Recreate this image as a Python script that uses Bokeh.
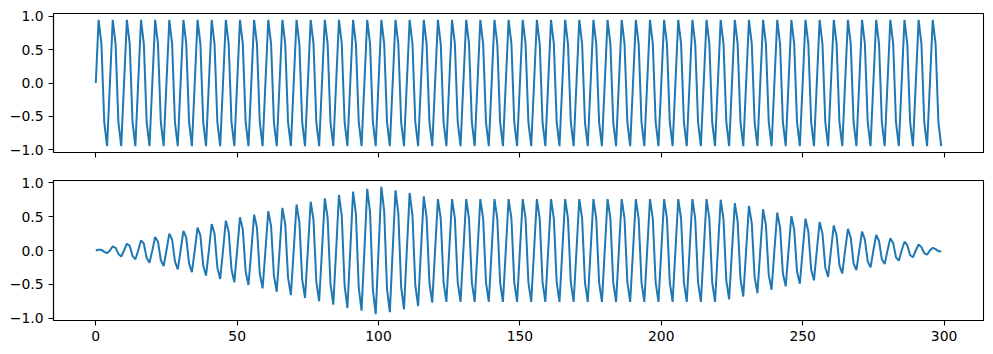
from bokeh.plotting import figure
from bokeh.layouts import column
from bokeh.models import Range1d, FixedTicker, CustomJSTickFormatter
from bokeh.embed import file_html
from bokeh.resources import INLINE

# sample index
sample = list(range(300))

x_ticks = [0, 50, 100, 150, 200, 250, 300]
y_ticks = [-1.0, -0.5, 0.0, 0.5, 1.0]

# top panel: plain sine
signal = [
    0.0, 0.95, 0.59, -0.59, -0.95, 0.0, 0.95, 0.59, -0.59, -0.95,
    0.0, 0.95, 0.59, -0.59, -0.95, 0.0, 0.95, 0.59, -0.59, -0.95,
    0.0, 0.95, 0.59, -0.59, -0.95, 0.0, 0.95, 0.59, -0.59, -0.95,
    0.0, 0.95, 0.59, -0.59, -0.95, 0.0, 0.95, 0.59, -0.59, -0.95,
    0.0, 0.95, 0.59, -0.59, -0.95, 0.0, 0.95, 0.59, -0.59, -0.95,
    0.0, 0.95, 0.59, -0.59, -0.95, 0.0, 0.95, 0.59, -0.59, -0.95,
    0.0, 0.95, 0.59, -0.59, -0.95, 0.0, 0.95, 0.59, -0.59, -0.95,
    0.0, 0.95, 0.59, -0.59, -0.95, 0.0, 0.95, 0.59, -0.59, -0.95,
    0.0, 0.95, 0.59, -0.59, -0.95, 0.0, 0.95, 0.59, -0.59, -0.95,
    0.0, 0.95, 0.59, -0.59, -0.95, 0.0, 0.95, 0.59, -0.59, -0.95,
    0.0, 0.95, 0.59, -0.59, -0.95, 0.0, 0.95, 0.59, -0.59, -0.95,
    0.0, 0.95, 0.59, -0.59, -0.95, 0.0, 0.95, 0.59, -0.59, -0.95,
    0.0, 0.95, 0.59, -0.59, -0.95, 0.0, 0.95, 0.59, -0.59, -0.95,
    0.0, 0.95, 0.59, -0.59, -0.95, 0.0, 0.95, 0.59, -0.59, -0.95,
    0.0, 0.95, 0.59, -0.59, -0.95, 0.0, 0.95, 0.59, -0.59, -0.95,
    0.0, 0.95, 0.59, -0.59, -0.95, 0.0, 0.95, 0.59, -0.59, -0.95,
    0.0, 0.95, 0.59, -0.59, -0.95, 0.0, 0.95, 0.59, -0.59, -0.95,
    0.0, 0.95, 0.59, -0.59, -0.95, 0.0, 0.95, 0.59, -0.59, -0.95,
    0.0, 0.95, 0.59, -0.59, -0.95, 0.0, 0.95, 0.59, -0.59, -0.95,
    0.0, 0.95, 0.59, -0.59, -0.95, 0.0, 0.95, 0.59, -0.59, -0.95,
    0.0, 0.95, 0.59, -0.59, -0.95, 0.0, 0.95, 0.59, -0.59, -0.95,
    0.0, 0.95, 0.59, -0.59, -0.95, 0.0, 0.95, 0.59, -0.59, -0.95,
    0.0, 0.95, 0.59, -0.59, -0.95, 0.0, 0.95, 0.59, -0.59, -0.95,
    0.0, 0.95, 0.59, -0.59, -0.95, 0.0, 0.95, 0.59, -0.59, -0.95,
    0.0, 0.95, 0.59, -0.59, -0.95, 0.0, 0.95, 0.59, -0.59, -0.95,
    0.0, 0.95, 0.59, -0.59, -0.95, 0.0, 0.95, 0.59, -0.59, -0.95,
    0.0, 0.95, 0.59, -0.59, -0.95, 0.0, 0.95, 0.59, -0.59, -0.95,
    0.0, 0.95, 0.59, -0.59, -0.95, 0.0, 0.95, 0.59, -0.59, -0.95,
    0.0, 0.95, 0.59, -0.59, -0.95, 0.0, 0.95, 0.59, -0.59, -0.95,
    0.0, 0.95, 0.59, -0.59, -0.95, 0.0, 0.95, 0.59, -0.59, -0.95,
]

# bottom panel: windowed sine
windowed = [
    0.0, 0.01, 0.01, -0.02, -0.04, 0.0, 0.06, 0.04, -0.05, -0.09,
    0.0, 0.10, 0.07, -0.08, -0.13, 0.0, 0.15, 0.10, -0.11, -0.18,
    0.0, 0.20, 0.13, -0.14, -0.23, 0.0, 0.25, 0.16, -0.16, -0.28,
    0.0, 0.29, 0.19, -0.19, -0.32, 0.0, 0.34, 0.22, -0.22, -0.37,
    0.0, 0.39, 0.25, -0.25, -0.42, 0.0, 0.44, 0.28, -0.28, -0.47,
    0.0, 0.49, 0.31, -0.31, -0.51, 0.0, 0.53, 0.34, -0.34, -0.56,
    0.0, 0.58, 0.36, -0.37, -0.61, 0.0, 0.63, 0.39, -0.40, -0.66,
    0.0, 0.68, 0.42, -0.43, -0.70, 0.0, 0.72, 0.45, -0.46, -0.75,
    0.0, 0.77, 0.48, -0.49, -0.80, 0.0, 0.82, 0.51, -0.52, -0.85,
    0.0, 0.87, 0.54, -0.55, -0.89, 0.0, 0.91, 0.57, -0.58, -0.94,
    0.0, 0.94, 0.58, -0.57, -0.91, 0.0, 0.89, 0.55, -0.54, -0.87,
    0.0, 0.85, 0.52, -0.51, -0.82, 0.0, 0.80, 0.49, -0.48, -0.77,
    0.0, 0.76, 0.47, -0.47, -0.76, 0.0, 0.76, 0.47, -0.47, -0.76,
    0.0, 0.76, 0.47, -0.47, -0.76, 0.0, 0.76, 0.47, -0.47, -0.76,
    0.0, 0.76, 0.47, -0.47, -0.76, 0.0, 0.76, 0.47, -0.47, -0.76,
    0.0, 0.76, 0.47, -0.47, -0.76, 0.0, 0.76, 0.47, -0.47, -0.76,
    0.0, 0.76, 0.47, -0.47, -0.76, 0.0, 0.76, 0.47, -0.47, -0.76,
    0.0, 0.76, 0.47, -0.47, -0.76, 0.0, 0.76, 0.47, -0.47, -0.76,
    0.0, 0.76, 0.47, -0.47, -0.76, 0.0, 0.76, 0.47, -0.47, -0.76,
    0.0, 0.76, 0.47, -0.47, -0.76, 0.0, 0.76, 0.47, -0.47, -0.76,
    0.0, 0.76, 0.47, -0.47, -0.76, 0.0, 0.76, 0.47, -0.47, -0.76,
    0.0, 0.76, 0.47, -0.47, -0.76, 0.0, 0.76, 0.47, -0.47, -0.76,
    0.0, 0.75, 0.46, -0.45, -0.72, 0.0, 0.70, 0.43, -0.42, -0.68,
    0.0, 0.66, 0.40, -0.39, -0.63, 0.0, 0.61, 0.37, -0.36, -0.58,
    0.0, 0.56, 0.34, -0.34, -0.53, 0.0, 0.51, 0.31, -0.31, -0.49,
    0.0, 0.47, 0.28, -0.28, -0.44, 0.0, 0.42, 0.25, -0.25, -0.39,
    0.0, 0.37, 0.22, -0.22, -0.34, 0.0, 0.32, 0.19, -0.19, -0.29,
    0.0, 0.28, 0.16, -0.16, -0.25, 0.0, 0.23, 0.14, -0.13, -0.20,
    0.0, 0.18, 0.11, -0.10, -0.15, 0.0, 0.13, 0.08, -0.07, -0.10,
    0.0, 0.09, 0.05, -0.04, -0.06, 0.0, 0.04, 0.02, -0.01, -0.01,
]

LINE = "#1f77b4"
FONT = "DejaVu Sans"
FS = "13.9px"

x_range = Range1d(-14.95, 313.95)

yfmt_code = "return tick.toFixed(1).replace('-', '\u2212');"


def style(p, show_x_labels):
    p.outline_line_color = "black"
    p.outline_line_width = 1.1
    p.background_fill_color = "white"
    p.border_fill_color = "white"
    p.xgrid.visible = False
    p.ygrid.visible = False
    for ax in (p.xaxis[0], p.yaxis[0]):
        ax.axis_line_color = "black"
        ax.axis_line_width = 1.1
        ax.major_tick_line_color = "black"
        ax.major_tick_line_width = 1.1
        ax.major_tick_in = 0
        ax.major_tick_out = 5
        ax.minor_tick_line_color = None
        ax.major_label_text_font = FONT
        ax.major_label_text_font_size = FS
        ax.major_label_text_color = "black"
        ax.major_label_standoff = 5
    p.xaxis[0].ticker = FixedTicker(ticks=x_ticks)
    p.yaxis[0].ticker = FixedTicker(ticks=y_ticks)
    p.yaxis[0].formatter = CustomJSTickFormatter(code=yfmt_code)
    if not show_x_labels:
        # shared x axis: ticks only, no labels (as in the reference)
        p.xaxis[0].formatter = CustomJSTickFormatter(code="return '';")
        p.xaxis[0].major_label_standoff = 0


p1 = figure(width=993, height=166, x_range=x_range, y_range=Range1d(-1.045, 1.045),
            output_backend="svg", toolbar_location=None,
            min_border_left=53, min_border_right=10, min_border_top=13, min_border_bottom=14)
p1.line(sample, signal, line_color=LINE, line_width=2)
style(p1, False)

p2 = figure(width=993, height=188, x_range=x_range, y_range=Range1d(-1.034, 1.034),
            output_backend="svg", toolbar_location=None,
            min_border_left=53, min_border_right=10, min_border_top=14, min_border_bottom=34)
p2.line(sample, windowed, line_color=LINE, line_width=2)
style(p2, True)

layout = column(p1, p2, spacing=0)

open("out.html", "w").write(file_html(layout, INLINE))
